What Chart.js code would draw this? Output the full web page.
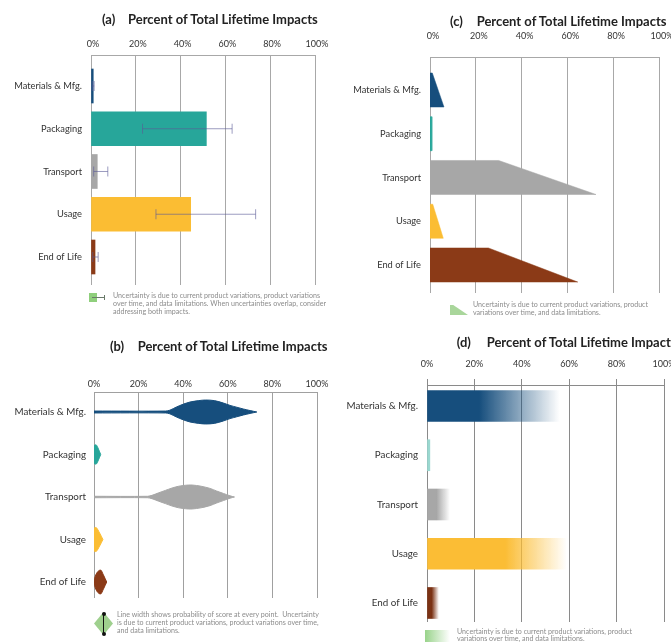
<!DOCTYPE html>
<html>
<head>
<meta charset="utf-8">
<script src="https://cdn.jsdelivr.net/npm/chart.js@4.4.1/dist/chart.umd.min.js"></script>
<style>
html, body { margin: 0; padding: 0; background: #fff; overflow: hidden; width: 671px; height: 643px; }
body { position: relative; font-family: Lato, "Open Sans", sans-serif; }
canvas { position: absolute; }
.title { position: absolute; font-weight: 700; font-size: 13px; line-height: 14px; color: #222; white-space: nowrap; }
.title span { display: inline-block; }
.note { position: absolute; font-size: 7.1px; line-height: 8.4px; color: #8c8c8c; white-space: nowrap; }
.ico { position: absolute; }
</style>
</head>
<body>

<canvas id="cA" width="335" height="318" style="left:0;top:0"></canvas>
<canvas id="cC" width="360" height="318" style="left:340px;top:0"></canvas>
<canvas id="cB" width="335" height="323" style="left:0;top:320px"></canvas>
<canvas id="cD" width="360" height="323" style="left:340px;top:320px"></canvas>

<div class="title" style="left:102px;top:11.5px"><span style="width:26px">(a)</span>Percent of Total Lifetime Impacts</div>
<div class="title" style="left:450px;top:13.5px"><span style="width:26.7px">(c)</span>Percent of Total Lifetime Impacts</div>
<div class="title" style="left:110px;top:338.5px"><span style="width:27.7px">(b)</span>Percent of Total Lifetime Impacts</div>
<div class="title" style="left:456.7px;top:335px"><span style="width:30px">(d)</span>Percent of Total Lifetime Impacts</div>

<!-- legend icons -->
<div class="ico" style="left:89px;top:293px;width:8px;height:9px;background:#8fcf7c"></div>
<div class="ico" style="left:92px;top:297px;width:13px;height:1px;background:#6a7a6a"></div>
<div class="ico" style="left:104px;top:295px;width:1px;height:5px;background:#6a7a6a"></div>

<div class="ico" style="left:450px;top:305px;width:18px;height:10px;background:#a9d69b;clip-path:polygon(0 0,18% 0,100% 100%,0 100%)"></div>

<div class="ico" style="left:94px;top:612px;width:19px;height:23px;background:#9fd08e;clip-path:polygon(50% 0,100% 50%,50% 100%,0 50%)"></div>
<div class="ico" style="left:103px;top:613px;width:1px;height:21px;background:#111"></div>
<div class="ico" style="left:101.5px;top:611.5px;width:4px;height:4px;border-radius:2px;background:#111"></div>
<div class="ico" style="left:101.5px;top:631.5px;width:4px;height:4px;border-radius:2px;background:#111"></div>

<div class="ico" style="left:425px;top:630px;width:25px;height:12px;background:linear-gradient(to right,#98d38a,#ffffff)"></div>

<div class="note" style="left:113px;top:291.5px">Uncertainty is due to current product variations, product variations<br>over time, and data limitations. When uncertainties overlap, consider<br>addressing both impacts.</div>
<div class="note" style="left:473px;top:300.5px">Uncertainty is due to current product variations, product<br>variations over time, and data limitations.</div>
<div class="note" style="left:117px;top:610.5px">Line width shows probability of score at every point.&nbsp; Uncertainty<br>is due to current product variations, product variations over time,<br>and data limitations.</div>
<div class="note" style="left:457px;top:627.5px;line-height:7.5px">Uncertainty is due to current product variations, product<br>variations over time, and data limitations.</div>

<script>
const categories = ["Materials & Mfg.", "Packaging", "Transport", "Usage", "End of Life"];
const pctTicks = [0, 20, 40, 60, 80, 100];

// (a) share of lifetime impact and uncertainty range
const shareA = [1, 51.5, 2.8, 44.5, 1.8];
const lowA = [0.6, 23, 1.2, 29, 0.8];
const highA = [1.4, 63, 7.5, 73.5, 3.2];

// (c) uncertainty wedge: near edge and far edge
const wedgeNearC = [1, 0.8, 30, 1.2, 25.5];
const wedgeFarC = [6.1, 0.8, 72.5, 5.8, 64.5];

// (b) violin profiles: score and relative density
const violinX = [
  [0, 32, 34, 37, 40, 43, 47, 50, 54, 58, 61, 64, 67, 70, 73],
  [0, 1, 2, 3],
  [0, 24, 26, 29, 32, 35, 38, 41, 44, 48, 52, 55, 58, 61, 63],
  [0, 1, 2.5, 4],
  [0, 0.6, 1.6, 3, 4.2, 5.7]
];
const violinDensity = [
  [0.08, 0.08, 0.15, 0.42, 0.65, 0.83, 0.95, 1, 0.95, 0.75, 0.55, 0.4, 0.25, 0.12, 0],
  [0.75, 0.8, 0.45, 0],
  [0.06, 0.06, 0.14, 0.35, 0.55, 0.75, 0.9, 0.98, 1, 0.9, 0.72, 0.5, 0.3, 0.1, 0],
  [0.95, 1, 0.55, 0],
  [0.1, 0.5, 0.85, 1, 0.6, 0]
];

// (d) solid part and faded extent
const solidD = [22, 1.2, 4, 33, 2];
const extentD = [56, 1.2, 9.7, 59, 5];

const colors = ["#164e7d", "#27a69a", "#a7a7a7", "#fbbd33", "#8b3a17"];
const colorsD = ["#164e7d", "#9ad8d0", "#a7a7a7", "#fbbd35", "#7b3214"];

Chart.defaults.font.family = "Lato, 'Open Sans', sans-serif";

function xAxis(top, pad, offset, tickLen, gridColor) {
  return {
    type: "linear", position: "top", min: 0, max: 100,
    afterFit: s => { s.height = top; },
    afterBuildTicks: s => { s.ticks = pctTicks.map(v => ({ value: v })); },
    ticks: { callback: v => v + "%", padding: pad, labelOffset: offset, color: "#333",
             font: { size: 9 }, maxRotation: 0, autoSkip: false },
    grid: { color: gridColor, lineWidth: 1, drawTicks: tickLen > 0, tickLength: tickLen },
    border: { display: true, color: gridColor, width: 1 }
  };
}

function yAxis(width, min, max, pad, size) {
  return {
    type: "linear", reverse: true, offset: false, min: min, max: max,
    afterFit: s => { s.width = width; },
    afterBuildTicks: s => { s.ticks = categories.map((c, i) => ({ value: i })); },
    ticks: { callback: v => categories[v], padding: pad, color: "#333",
             font: { size: size }, autoSkip: false },
    grid: { display: false, drawTicks: false, offset: false },
    border: { display: false }
  };
}

function baseOptions(pad) {
  return {
    responsive: false, animation: false, events: [],
    layout: { padding: pad },
    plugins: { legend: { display: false }, tooltip: { enabled: false } }
  };
}

// ---- (a) bars with error bars
const errSets = categories.map((c, i) => ({
  type: "line",
  data: [{ x: lowA[i], y: i }, { x: highA[i], y: i }],
  borderColor: "rgba(90,90,150,0.6)", borderWidth: 1,
  pointStyle: "line", pointRotation: 90, pointRadius: 5,
  pointBorderColor: "rgba(90,90,150,0.6)", pointBorderWidth: 1,
  fill: false, order: 0
}));
const optA = baseOptions({ left: 0, right: 20, top: 0, bottom: 33 });
optA.indexAxis = "y";
optA.scales = { x: xAxis(55, 6, 2, 0, "#a8a8a8"), y: yAxis(91, -0.7251, 4.655, 9, 9.3) };
new Chart(document.getElementById("cA"), {
  type: "bar",
  data: { datasets: errSets.concat([{
    type: "bar", data: shareA.map((v, i) => ({ x: v, y: i })),
    backgroundColor: colors, barThickness: 34, borderWidth: 0, order: 1
  }]) },
  options: optA
});

// ---- (c) wedges
const H_C = 0.389;
const optC = baseOptions({ left: 0, right: 41, top: 0, bottom: 25 });
optC.scales = { x: xAxis(57, 16, 3, 0, "#a8a8a8"), y: yAxis(90, -0.754, 4.64, 9, 9.3) };
new Chart(document.getElementById("cC"), {
  type: "scatter",
  data: { datasets: categories.map((c, i) => ({
    data: [{ x: 0, y: i - H_C }, { x: wedgeNearC[i], y: i - H_C },
           { x: wedgeFarC[i], y: i + H_C }, { x: 0, y: i + H_C }],
    showLine: true, fill: "shape", backgroundColor: colors[i],
    borderColor: colors[i], borderWidth: 0.5, pointRadius: 0
  })) },
  options: optC
});

// ---- (b) violins
const H_B = 0.282;
function violin(i) {
  const xs = violinX[i], ds = violinDensity[i];
  const upper = xs.map((x, k) => ({ x: x, y: i - ds[k] * H_B }));
  const lower = xs.map((x, k) => ({ x: x, y: i + ds[k] * H_B })).reverse();
  return upper.concat(lower);
}
const optB = baseOptions({ left: 0, right: 18, top: 0, bottom: 45 });
optB.scales = { x: xAxis(72, 3, 0, 0, "#a0a0a0"), y: yAxis(94, -0.4706, 4.376, 8, 9.8) };
new Chart(document.getElementById("cB"), {
  type: "scatter",
  data: { datasets: categories.map((c, i) => ({
    data: violin(i), showLine: true, fill: "shape", tension: 0.3,
    backgroundColor: colors[i], borderColor: colors[i], borderWidth: 1, pointRadius: 0
  })) },
  options: optB
});

// ---- (d) fading bars
const optD = baseOptions({ left: 0, right: 36, top: 0, bottom: 21 });
optD.indexAxis = "y";
optD.scales = { x: xAxis(65, 10, 0, 6, "#8a8a8a"), y: yAxis(87, -0.4264, 4.386, 9, 9.8) };
function fadeFill(ctx) {
  const i = ctx.dataIndex;
  const chart = ctx.chart;
  const col = colorsD[i];
  if (!chart.chartArea || extentD[i] <= solidD[i]) return col;
  const xs = chart.scales.x;
  const g = chart.ctx.createLinearGradient(xs.getPixelForValue(solidD[i]), 0, xs.getPixelForValue(extentD[i]), 0);
  g.addColorStop(0, col);
  g.addColorStop(1, col + "00");
  return g;
}
new Chart(document.getElementById("cD"), {
  type: "bar",
  data: { datasets: [{
    data: extentD.map((v, i) => ({ x: v, y: i })),
    backgroundColor: fadeFill, barThickness: 31, borderWidth: 0
  }] },
  options: optD
});
</script>
</body>
</html>
